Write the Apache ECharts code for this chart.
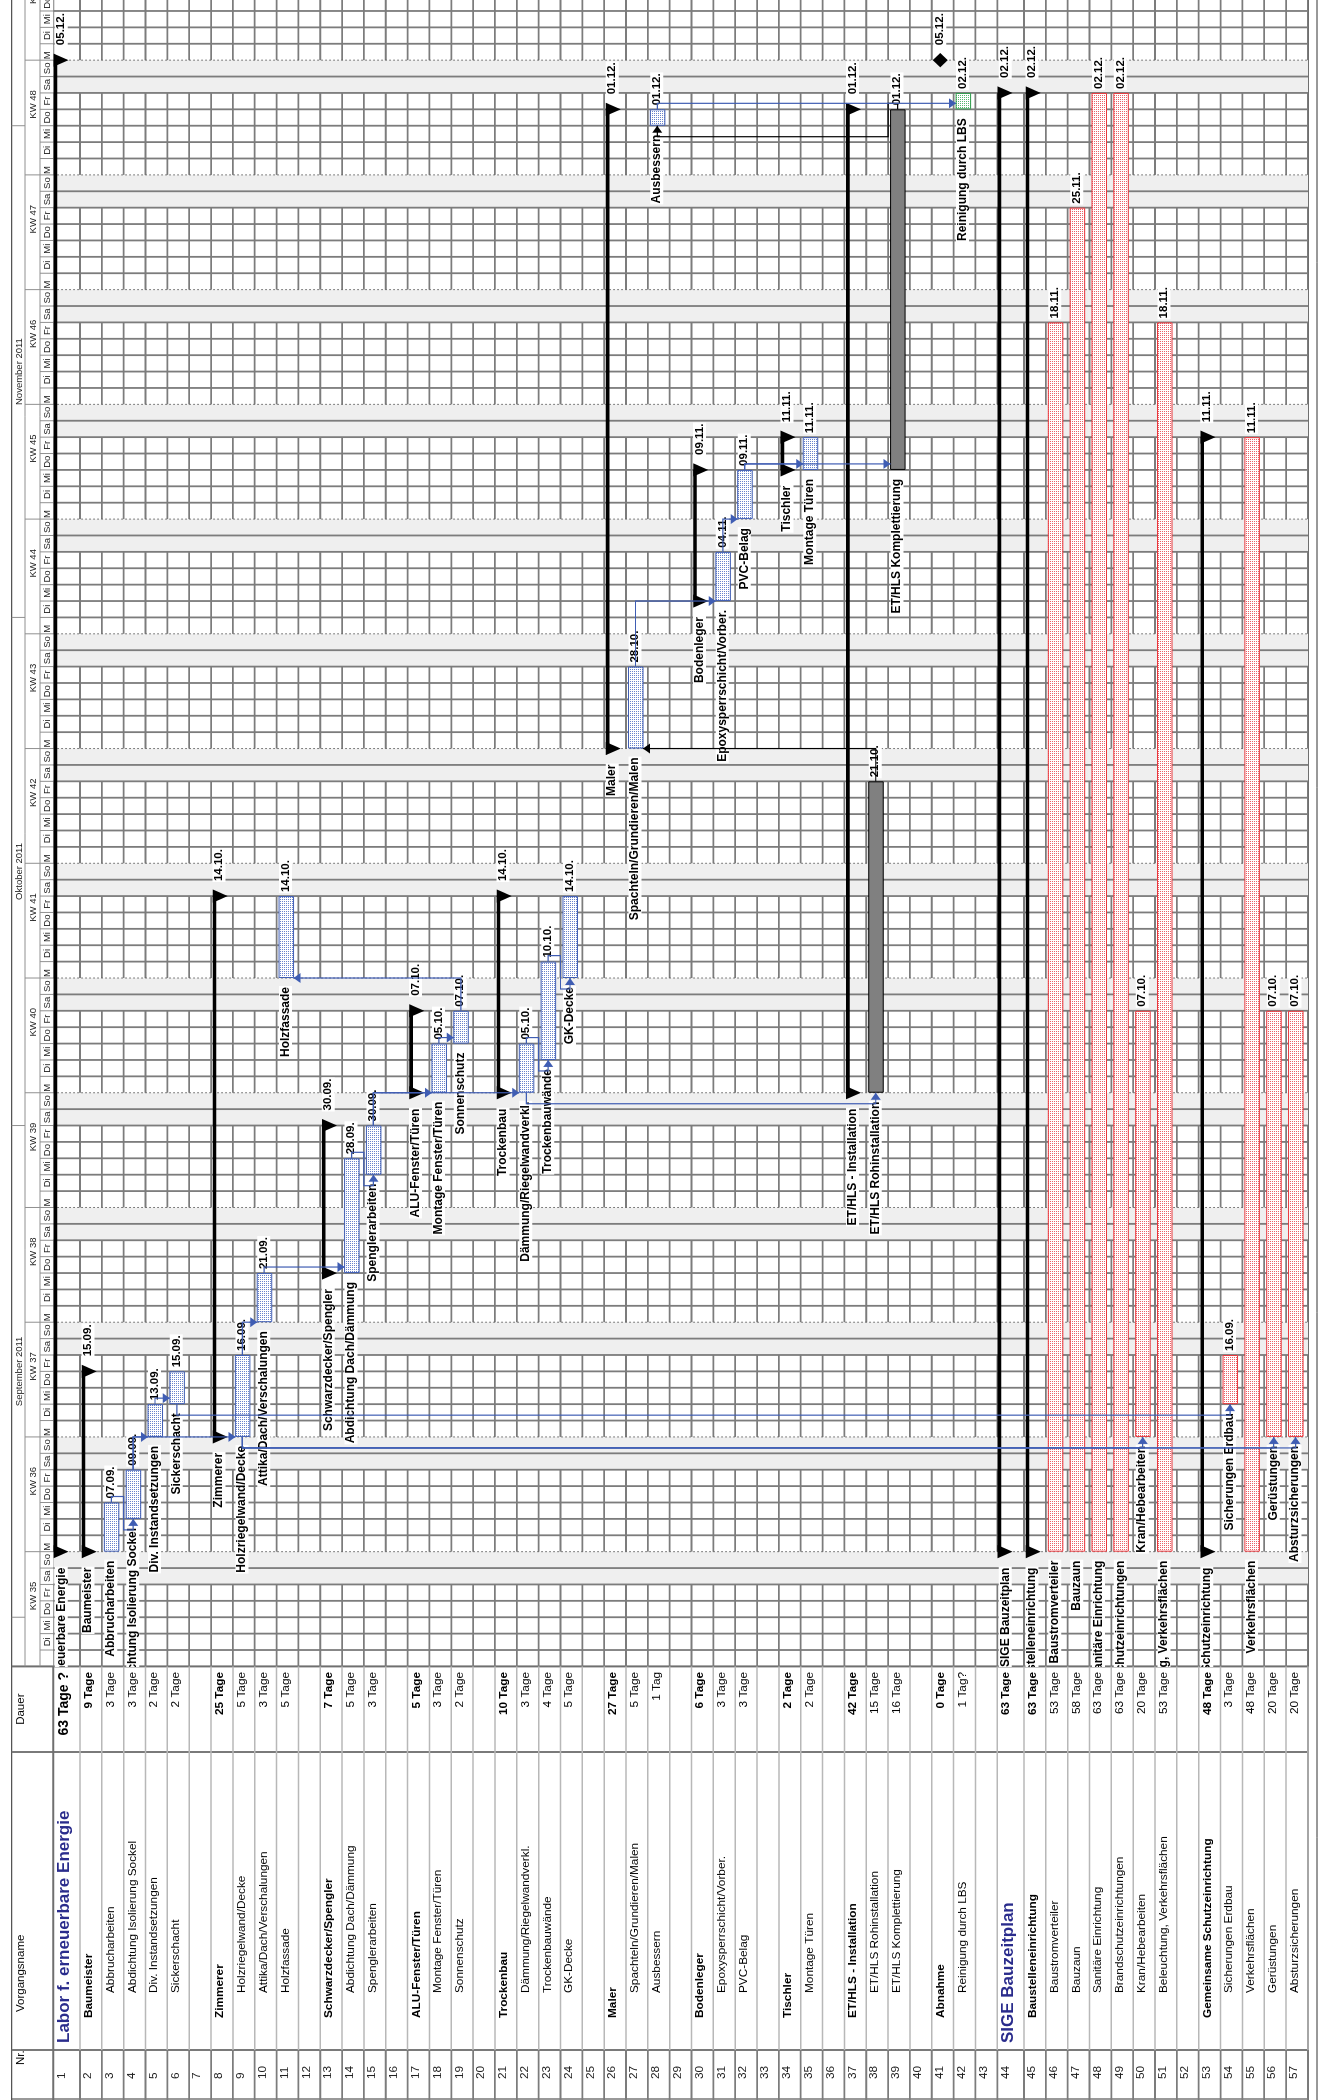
<!DOCTYPE html>
<html lang="de">
<head>
<meta charset="UTF-8">
<title>Bauzeitplan</title>
<style>
    html, body { margin: 0; padding: 0; background: #fff; overflow: hidden; }
    /* the plan is drawn in landscape and turned by 90 degrees like the printout */
    #rot { position: absolute; left: 0; top: 0; width: 2100px; height: 1319px;
           transform-origin: 0 0; transform: translate(0px, 2100px) rotate(-90deg); }
    #main { width: 2100px; height: 1319px; }
</style>
</head>
<body>
<div id="rot"><div id="main"></div></div>
<script src="https://cdn.jsdelivr.net/npm/echarts/dist/echarts.min.js"></script>
<script>
    // Vorgänge
    var taskNames = ['Labor f. erneuerbare Energie', 'Baumeister', 'Abbrucharbeiten', 'Abdichtung Isolierung Sockel',
        'Div. Instandsetzungen', 'Sickerschacht', '', 'Zimmerer', 'Holzriegelwand/Decke', 'Attika/Dach/Verschalungen',
        'Holzfassade', '', 'Schwarzdecker/Spengler', 'Abdichtung Dach/Dämmung', 'Spenglerarbeiten', '',
        'ALU-Fenster/Türen', 'Montage Fenster/Türen', 'Sonnenschutz', '', 'Trockenbau', 'Dämmung/Riegelwandverkl.',
        'Trockenbauwände', 'GK-Decke', '', 'Maler', 'Spachteln/Grundieren/Malen', 'Ausbessern', '', 'Bodenleger',
        'Epoxysperrschicht/Vorber.', 'PVC-Belag', '', 'Tischler', 'Montage Türen', '', 'ET/HLS - Installation',
        'ET/HLS Rohinstallation', 'ET/HLS Komplettierung', '', 'Abnahme', 'Reinigung durch LBS', '',
        'SIGE Bauzeitplan', 'Baustelleneinrichtung', 'Baustromverteiler', 'Bauzaun', 'Sanitäre Einrichtung',
        'Brandschutzeinrichtungen', 'Kran/Hebearbeiten', 'Beleuchtung, Verkehrsflächen', '',
        'Gemeinsame Schutzeinrichtung', 'Sicherungen Erdbau', 'Verkehrsflächen', 'Gerüstungen', 'Absturzsicherungen'];

    var durations = ['63 Tage ?', '9 Tage', '3 Tage', '3 Tage', '2 Tage', '2 Tage', '', '25 Tage', '5 Tage', '3 Tage',
        '5 Tage', '', '7 Tage', '5 Tage', '3 Tage', '', '5 Tage', '3 Tage', '2 Tage', '', '10 Tage', '3 Tage', '4 Tage',
        '5 Tage', '', '27 Tage', '5 Tage', '1 Tag', '', '6 Tage', '3 Tage', '3 Tage', '', '2 Tage', '2 Tage', '',
        '42 Tage', '15 Tage', '16 Tage', '', '0 Tage', '1 Tag?', '', '63 Tage', '63 Tage', '53 Tage', '58 Tage',
        '63 Tage', '63 Tage', '20 Tage', '53 Tage', '', '48 Tage', '3 Tage', '48 Tage', '20 Tage', '20 Tage'];

    // Gliederungsebene (-1 = Leerzeile)
    var levels = [0, 1, 2, 2, 2, 2, -1, 1, 2, 2, 2, -1, 1, 2, 2, -1, 1, 2, 2, -1, 1, 2, 2, 2, -1, 1, 2, 2, -1,
        1, 2, 2, -1, 1, 2, -1, 1, 2, 2, -1, 1, 2, -1, 0, 1, 2, 2, 2, 2, 2, 2, -1, 1, 2, 2, 2, 2];

    // sum = Sammelvorgang, task = Vorgang, ext = ET/HLS, lbs = Bauherr, sige = SIGE, mile = Meilenstein
    var kinds = ['sum', 'sum', 'task', 'task', 'task', 'task', '', 'sum', 'task', 'task', 'task', '', 'sum', 'task',
        'task', '', 'sum', 'task', 'task', '', 'sum', 'task', 'task', 'task', '', 'sum', 'task', 'task', '', 'sum',
        'task', 'task', '', 'sum', 'task', '', 'sum', 'ext', 'ext', '', 'mile', 'lbs', '', 'sum', 'sum', 'sige',
        'sige', 'sige', 'sige', 'sige', 'sige', '', 'sum', 'sige', 'sige', 'sige', 'sige'];

    // Anfang / Ende (Sammelvorgänge ergeben sich aus ihren Vorgängen)
    var starts = ['', '', '05.09.', '07.09.', '12.09.', '14.09.', '', '', '12.09.', '19.09.', '10.10.', '', '',
        '22.09.', '28.09.', '', '', '03.10.', '06.10.', '', '', '03.10.', '05.10.', '10.10.', '', '', '24.10.',
        '01.12.', '', '', '02.11.', '07.11.', '', '', '10.11.', '', '', '03.10.', '10.11.', '', '05.12.', '02.12.',
        '', '', '', '05.09.', '05.09.', '05.09.', '05.09.', '12.09.', '05.09.', '', '', '14.09.', '05.09.',
        '12.09.', '12.09.'];
    var finishes = ['', '', '07.09.', '09.09.', '13.09.', '15.09.', '', '', '16.09.', '21.09.', '14.10.', '', '',
        '28.09.', '30.09.', '', '', '05.10.', '07.10.', '', '', '05.10.', '10.10.', '14.10.', '', '', '28.10.',
        '01.12.', '', '', '04.11.', '09.11.', '', '', '11.11.', '', '', '21.10.', '01.12.', '', '05.12.', '02.12.',
        '', '', '', '18.11.', '25.11.', '02.12.', '02.12.', '07.10.', '18.11.', '', '', '16.09.', '11.11.',
        '07.10.', '07.10.'];

    // Anordnungsbeziehungen [Vorgänger, Nachfolger, Art]
    var links = [[3, 4, 'FS'], [4, 5, 'FS'], [4, 9, 'FS'], [5, 6, 'FS'], [6, 54, 'SS'], [9, 10, 'FS'],
        [9, 50, 'SS'], [9, 56, 'SS'], [9, 57, 'SS'], [10, 14, 'FS'], [14, 15, 'FS'], [15, 18, 'FS'],
        [15, 22, 'FS'], [18, 19, 'FS'], [19, 11, 'FS'], [22, 23, 'FS'], [22, 38, 'SS'], [23, 24, 'FS'],
        [38, 27, 'FS'], [27, 31, 'FS'], [31, 32, 'FS'], [32, 35, 'FS'], [32, 39, 'FS'], [39, 28, 'FS'],
        [28, 42, 'FS']];

    // Zeitskala
    var monthLabels = ['September 2011', 'Oktober 2011', 'November 2011', 'Dezember 2011'];
    var monthStarts = ['01.09.', '01.10.', '01.11.', '01.12.'];
    var weekLabels = ['KW 35', 'KW 36', 'KW 37', 'KW 38', 'KW 39', 'KW 40', 'KW 41', 'KW 42', 'KW 43',
        'KW 44', 'KW 45', 'KW 46', 'KW 47', 'KW 48', 'KW 49'];
    var dayLabels = ['M', 'Di', 'Mi', 'Do', 'Fr', 'Sa', 'So'];
    var viewStart = '29.08.';
    var viewDays = 101.67;

    var FONT = '"Liberation Sans", Arial, sans-serif';
    var GRID = '#7c7c7c';
    var BLUE = '#3f5db3';

    function dayOf(s) {
        var p = s.split('.'), q = viewStart.split('.');
        return (Date.UTC(2011, +p[1] - 1, +p[0]) - Date.UTC(2011, +q[1] - 1, +q[0])) / 864e5;
    }

    function dots(color) {
        var c = document.createElement('canvas');
        c.width = 2; c.height = 2;
        var g = c.getContext('2d');
        g.fillStyle = '#fff'; g.fillRect(0, 0, 2, 2);
        g.fillStyle = color; g.fillRect(0, 0, 1, 1);
        return { image: c, repeat: 'repeat' };
    }
    var barStyles = {
        task: { fill: dots('#6a83cc'), stroke: BLUE },
        sige: { fill: dots('#ec6068'), stroke: '#e8383d' },
        lbs: { fill: dots('#58b870'), stroke: '#2e9b4b' },
        ext: { fill: '#808080', stroke: '#000' }
    };

    // Zeilenraster
    var rowH = levels.map(function (l) { return l === 0 ? 26.7 : 21.84; });
    var rowTop = [], acc = 0;
    rowH.forEach(function (h) { rowTop.push(acc); acc += h; });
    var totalH = acc;
    var rowBounds = rowTop.concat([totalH]);

    // Balkenlage
    var barStart = [], barEnd = [], endLabel = [];
    kinds.forEach(function (k, i) {
        if (k === 'mile') {
            barStart[i] = barEnd[i] = dayOf(finishes[i]); endLabel[i] = finishes[i];
        } else if (k && k !== 'sum') {
            barStart[i] = dayOf(starts[i]); barEnd[i] = dayOf(finishes[i]) + 1; endLabel[i] = finishes[i];
        }
    });
    kinds.forEach(function (k, i) {
        if (k !== 'sum') return;
        var s = Infinity, e = -Infinity, lab = '';
        for (var j = i + 1; j < kinds.length && (levels[j] === -1 || levels[j] > levels[i]); j++) {
            if (!kinds[j] || kinds[j] === 'sum') continue;
            s = Math.min(s, barStart[j]);
            if (barEnd[j] > e) { e = barEnd[j]; lab = endLabel[j]; }
        }
        barStart[i] = s; barEnd[i] = e; endLabel[i] = lab;
    });
    var barRows = [];
    kinds.forEach(function (k, i) { if (k) barRows.push([i]); });

    function txt(s, x, y, align, size, weight, color, bg) {
        return {
            type: 'text',
            style: {
                text: s, x: x, y: y, align: align, verticalAlign: 'middle',
                fontSize: size, fontWeight: weight, fontFamily: FONT, fill: color || '#000',
                backgroundColor: bg || 'transparent', padding: bg ? [1, 1, 0, 1] : 0
            }
        };
    }
    function seg(a, b, color, width, dash) {
        return { type: 'line', shape: { x1: a[0], y1: a[1], x2: b[0], y2: b[1] },
                 style: { stroke: color, lineWidth: width, lineDash: dash || null } };
    }

    var days = [];
    for (var d = 0; d < viewDays; d++) days.push([d]);
    var weekendDays = days.filter(function (v) { return v[0] % 7 >= 5; });

    var chartLeft = 433.6, chartTop = 53.3;
    var myChart = echarts.init(document.getElementById('main'), null, { renderer: 'canvas' });

    myChart.setOption({
        animation: false,
        grid: [
            { left: chartLeft, top: chartTop, width: 2100 - chartLeft, height: totalH },
            { left: 0, top: chartTop, width: chartLeft, height: totalH }
        ],
        xAxis: [
            { type: 'value', gridIndex: 0, min: 0, max: viewDays, show: false },
            { type: 'value', gridIndex: 1, min: 0, max: chartLeft, show: false }
        ],
        yAxis: [
            { type: 'value', gridIndex: 0, min: 0, max: totalH, inverse: true, show: false },
            { type: 'value', gridIndex: 1, min: 0, max: totalH, inverse: true, show: false }
        ],
        graphic: [
            { type: 'group', silent: true, children: [
                seg([0, 11.7], [2100, 11.7], '#555', 1.2),
                seg([1, 11.7], [1, chartTop + totalH], '#555', 1.2),
                seg([50, 11.7], [50, chartTop + totalH], '#7a7a7a', 2),
                seg([348, 11.7], [348, chartTop + totalH], '#7a7a7a', 2),
                seg([chartLeft, 11.7], [chartLeft, chartTop + totalH], '#6f6f6f', 2),
                seg([0, chartTop], [chartLeft, chartTop], '#6f6f6f', 2),
                seg([chartLeft, 25], [2100, 25], '#909090', 1),
                seg([chartLeft, 40], [2100, 40], '#909090', 1),
                seg([0, chartTop + totalH], [2100, chartTop + totalH], '#6f6f6f', 2),
                seg([0, 1317], [2100, 1317], '#333', 1),
                txt('Nr.', 35, 21, 'left', 11.5, 'normal'),
                txt('Vorgangsname', 88, 21, 'left', 11.5, 'normal'),
                txt('Dauer', 390.8, 21, 'center', 11.5, 'normal')
            ] }
        ],
        series: [
            {   // Zeilenlinien
                type: 'custom', xAxisIndex: 0, yAxisIndex: 0, z: 1, clip: true, silent: true,
                data: rowBounds.map(function (v, i) { return [i]; }),
                renderItem: function (params, api) {
                    var y = rowBounds[params.dataIndex];
                    return seg(api.coord([0, y]), api.coord([viewDays, y]), GRID, 1.8);
                }
            },
            {   // Wochenenden
                type: 'custom', xAxisIndex: 0, yAxisIndex: 0, z: 2, clip: true, silent: true,
                data: weekendDays,
                renderItem: function (params, api) {
                    var d = api.value(0), a = api.coord([d, 0]), b = api.coord([d + 1, totalH]);
                    return { type: 'rect', shape: { x: a[0], y: a[1], width: b[0] - a[0], height: b[1] - a[1] },
                             style: { fill: '#efefef' } };
                }
            },
            {   // Tageslinien und Tageszeile
                type: 'custom', xAxisIndex: 0, yAxisIndex: 0, z: 3, clip: false, silent: true,
                data: days,
                renderItem: function (params, api) {
                    var d = api.value(0), a = api.coord([d, 0]), b = api.coord([d, totalH]);
                    var mid = api.coord([d + 0.5, 0])[0];
                    var ch = [];
                    if (d > 0) {
                        if (d % 7 === 0) ch.push(seg(a, b, '#5a5a5a', 1, [1.5, 2.5]));
                        else ch.push(seg(a, b, GRID, 1.8));
                        ch.push(seg([a[0], 40], [a[0], chartTop], '#909090', 1));
                        if (d % 7 === 0) ch.push(seg([a[0], 25], [a[0], 40], '#909090', 1));
                        if (d % 7 === 0) ch.push(txt(dayLabels[0], a[0] + 1, 47, 'left', 9.5, 'normal', '#222'));
                    }
                    if (d % 7 !== 0) ch.push(txt(dayLabels[d % 7], mid, 47, 'center', 9.5, 'normal', '#222'));
                    return { type: 'group', children: ch };
                }
            },
            {   // Kalenderwochen
                type: 'custom', xAxisIndex: 0, yAxisIndex: 0, z: 3, clip: false, silent: true,
                data: weekLabels.map(function (w, i) { return [i]; }),
                renderItem: function (params, api) {
                    var i = params.dataIndex, x = api.coord([7 * i + 4.3, 0])[0];
                    return txt(weekLabels[i], x, 33, 'center', 9.5, 'normal', '#222');
                }
            },
            {   // Monate
                type: 'custom', xAxisIndex: 0, yAxisIndex: 0, z: 3, clip: false, silent: true,
                data: monthLabels.map(function (m, i) { return [i]; }),
                renderItem: function (params, api) {
                    var i = params.dataIndex, s = dayOf(monthStarts[i]);
                    var p = monthStarts[i].split('.');
                    var len = new Date(Date.UTC(2011, +p[1], 0)).getUTCDate();
                    var x0 = api.coord([s, 0])[0], xc = api.coord([s + len / 2, 0])[0];
                    var ch = [seg([x0, 11.7], [x0, 25], '#909090', 1)];
                    if (xc < 2100) ch.push(txt(monthLabels[i], xc, 19, 'center', 9.5, 'normal', '#222'));
                    return { type: 'group', children: ch };
                }
            },
            {   // Balken
                type: 'custom', xAxisIndex: 0, yAxisIndex: 0, z: 4, clip: true, silent: true,
                data: barRows,
                renderItem: function (params, api) {
                    var r = api.value(0), k = kinds[r];
                    var a = api.coord([barStart[r], rowTop[r]]), b = api.coord([barEnd[r], rowTop[r]]);
                    var x0 = a[0], x1 = b[0], y = a[1];
                    if (k === 'sum') {
                        var o = levels[r] === 0 ? 0.3 : 1.7;
                        return { type: 'group', children: [
                            { type: 'rect', shape: { x: x0, y: y + o, width: x1 - x0, height: 3.6 }, style: { fill: '#000' } },
                            { type: 'polygon', shape: { points: [[x0 - 6.6, y + o], [x0 + 6.6, y + o], [x0, y + o + 15]] }, style: { fill: '#000' } },
                            { type: 'polygon', shape: { points: [[x1 - 6.6, y + o], [x1 + 6.6, y + o], [x1, y + o + 15]] }, style: { fill: '#000' } }
                        ] };
                    }
                    if (k === 'mile') {
                        var cy = y + 8.5;
                        return { type: 'polygon', shape: { points: [[x0, cy - 7.5], [x0 + 7.2, cy], [x0, cy + 7.5], [x0 - 7.2, cy]] },
                                 style: { fill: '#000' } };
                    }
                    var st = barStyles[k];
                    return { type: 'rect', shape: { x: x0 + 0.5, y: y + 2.5, width: x1 - x0 - 1, height: 14.5 },
                             style: { fill: st.fill, stroke: st.stroke, lineWidth: 1 } };
                }
            },
            {   // Balkenbeschriftung
                type: 'custom', xAxisIndex: 0, yAxisIndex: 0, z: 5, clip: true, silent: true,
                data: barRows,
                renderItem: function (params, api) {
                    var r = api.value(0), k = kinds[r];
                    var a = api.coord([barStart[r], rowTop[r]]), b = api.coord([barEnd[r], rowTop[r]]);
                    var big = k === 'sum' || k === 'mile';
                    var cy = a[1] + (big ? 8 : 9);
                    var ch = [];
                    if (k !== 'mile') ch.push(txt(taskNames[r], a[0] - (big ? 15 : 8), cy, 'right', 12, 'bold', '#000', '#fff'));
                    ch.push(txt(endLabel[r], b[0] + (big ? 14 : 3), cy, 'left', 11.5, 'bold', '#000', '#fff'));
                    return { type: 'group', children: ch };
                }
            },
            {   // Anordnungspfeile
                type: 'custom', xAxisIndex: 0, yAxisIndex: 0, z: 6, clip: true, silent: true,
                data: links.map(function (l, i) { return [i]; }),
                renderItem: function (params, api) {
                    var L = links[params.dataIndex], p = L[0] - 1, s = L[1] - 1;
                    var col = kinds[p] === 'ext' ? '#000' : BLUE;
                    var yp = api.coord([0, rowTop[p] + 9.5])[1], ys = api.coord([0, rowTop[s] + 9.5])[1];
                    var xs = api.coord([barStart[s], 0])[0];
                    var pts, head;
                    var right = function (x, y) { return [[x - 7, y - 5], [x - 7, y + 5], [x, y]]; };
                    if (L[2] === 'SS') {
                        var xp = api.coord([barStart[p], 0])[0];
                        pts = [[xp, yp], [xp - 11, yp], [xp - 11, ys], [xs, ys]];
                        head = right(xs, ys);
                    } else {
                        var xe = api.coord([barEnd[p], 0])[0], down = s > p;
                        if (xs >= xe - 1) {
                            var dx = Math.max(xs, xe + 6);
                            var yt = api.coord([0, rowTop[s] + (down ? 2.5 : 17)])[1];
                            var sg = down ? -1 : 1;
                            pts = [[xe, yp], [dx, yp], [dx, yt]];
                            head = [[dx - 5, yt + 7 * sg], [dx + 5, yt + 7 * sg], [dx, yt]];
                        } else {
                            var yb = api.coord([0, down ? rowTop[p] + rowH[p] : rowTop[p]])[1];
                            pts = [[xe, yp], [xe + 6, yp], [xe + 6, yb], [xs - 11, yb], [xs - 11, ys], [xs, ys]];
                            head = right(xs, ys);
                        }
                    }
                    return { type: 'group', children: [
                        { type: 'polyline', shape: { points: pts }, style: { stroke: col, lineWidth: 1.2, fill: null } },
                        { type: 'polygon', shape: { points: head }, style: { fill: col } }
                    ] };
                }
            },
            {   // Tabelle links
                type: 'custom', xAxisIndex: 1, yAxisIndex: 1, z: 3, clip: false, silent: true,
                data: taskNames.map(function (n, i) { return [i]; }),
                renderItem: function (params, api) {
                    var r = params.dataIndex, t = rowTop[r], bot = t + rowH[r], lv = levels[r];
                    var ch = [
                        seg(api.coord([0, bot]), api.coord([50, bot]), '#7c7c7c', 1.8),
                        seg(api.coord([50, bot]), api.coord([chartLeft, bot]), '#b8b8b8', 1.5)
                    ];
                    ch.push(txt(String(r + 1), api.coord([21, 0])[0], api.coord([0, t + 8])[1], 'left', 11.8, 'normal', '#222'));
                    if (taskNames[r]) {
                        var big = lv === 0;
                        ch.push(txt(taskNames[r], api.coord([57 + 25 * lv, 0])[0], api.coord([0, t + (big ? 11 : 8.7)])[1],
                            'left', big ? 17 : 11.8, lv <= 1 ? 'bold' : 'normal', big ? '#2a2c8c' : '#000'));
                    }
                    if (durations[r]) {
                        var first = r === 0;
                        ch.push(txt(durations[r], api.coord([428, 0])[0], api.coord([0, t + (first ? 11 : 8.7)])[1],
                            'right', first ? 14 : 11.8, lv <= 1 ? 'bold' : 'normal', '#000'));
                    }
                    return { type: 'group', children: ch };
                }
            }
        ]
    });
</script>
</body>
</html>
